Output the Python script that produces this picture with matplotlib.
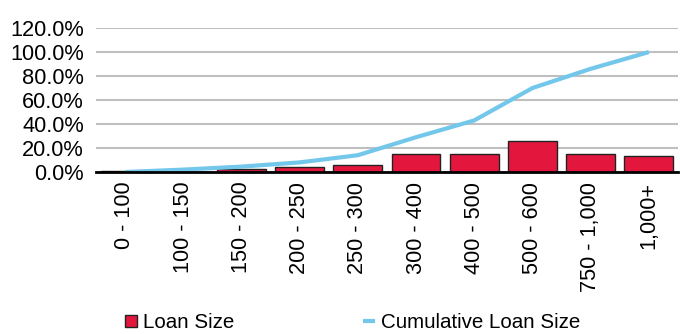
import numpy as np
import matplotlib
matplotlib.use("Agg")
from matplotlib import pyplot as plt
from matplotlib.ticker import FuncFormatter

categories = ["0 - 100", "100 - 150", "150 - 200", "200 - 250", "250 - 300",
              "300 - 400", "400 - 500", "500 - 600", "750 - 1,000", "1,000+"]
loan_size = [0.6, 0.3, 2.2, 4.0, 5.8, 15.0, 15.0, 26.0, 15.0, 13.6]
cumulative = [0.0, 2.0, 4.5, 8.0, 14.0, 29.0, 43.0, 70.0, 86.0, 100.0]

plt.rcParams['font.family'] = ['Liberation Sans', 'DejaVu Sans']

fig = plt.figure(figsize=(6.8, 3.34), dpi=100)
ax = fig.add_axes([0.141, 0.485, 0.856, 0.431])

x = np.arange(len(categories))
bars = ax.bar(x, np.array(loan_size) / 100, width=0.84, color='#E3173E',
              edgecolor='#222222', linewidth=1.0, zorder=2, label='Loan Size')
line, = ax.plot(x, np.array(cumulative) / 100, color='#73C7EA', linewidth=3,
                solid_capstyle='butt', zorder=3, label='Cumulative Loan Size')

ax.set_xlim(-0.5, len(categories) - 0.5)
ax.set_ylim(0, 1.2)
ax.set_yticks(np.arange(0, 1.21, 0.2))
ax.yaxis.set_major_formatter(FuncFormatter(lambda v, p: f"{v * 100:.1f}%"))
ax.grid(axis='y', color='#bfbfbf', linewidth=1.5, zorder=0)
ax.set_axisbelow(True)

for s in ['top', 'right', 'left']:
    ax.spines[s].set_visible(False)
ax.spines['bottom'].set_linewidth(2)
ax.spines['bottom'].set_color('black')
ax.spines['bottom'].set_zorder(4)

ax.set_xticks(x)
ax.set_xticklabels(categories, rotation=90)
ax.tick_params(axis='both', length=0, labelsize=15.7)
ax.tick_params(axis='x', pad=7)
ax.tick_params(axis='y', pad=8.5)

fig.legend([bars, line], ['Loan Size', 'Cumulative Loan Size'],
           loc='lower left', bbox_to_anchor=(0.157, -0.05), ncol=2, frameon=False,
           fontsize=14.8, handlelength=0.55, handleheight=0.55, handletextpad=0.3,
           columnspacing=6.3)

fig.savefig("out.png", dpi=100)
